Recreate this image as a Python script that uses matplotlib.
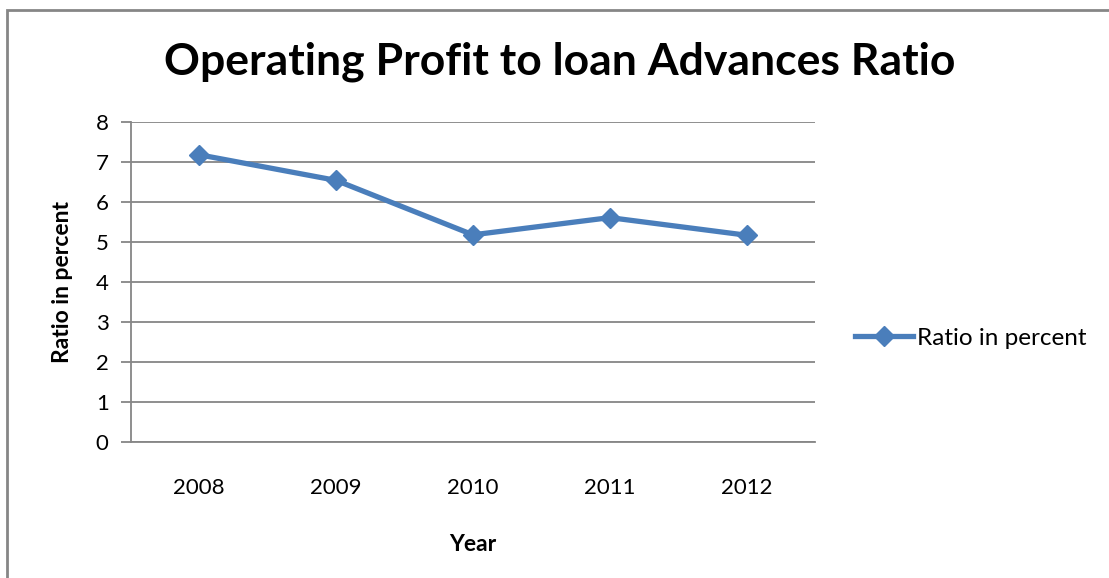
import matplotlib as mpl
mpl.use('Agg')
from matplotlib import pyplot as plt
from matplotlib.patches import Rectangle

years = ['2008', '2009', '2010', '2011', '2012']
ratio = [7.18, 6.54, 5.18, 5.61, 5.17]
yticks = [0, 1, 2, 3, 4, 5, 6, 7, 8]

plt.rcParams['font.family'] = ['Lato', 'DejaVu Sans']

fig = plt.figure(figsize=(11.09, 5.78), dpi=100)
ax = fig.add_axes([0.118, 0.235, 0.617, 0.554])

x = list(range(len(years)))
ax.plot(x, ratio, color='#4A7EBB', linewidth=3.8, marker='D', markersize=10.5,
        label='Ratio in percent')

ax.set_xlim(-0.5, len(years) - 0.5)
ax.set_ylim(0, 8)
ax.set_xticks(x)
ax.set_xticklabels(years, fontsize=16)
ax.set_yticks(yticks)
ax.set_yticklabels([str(v) for v in yticks], fontsize=16)
ax.tick_params(axis='x', length=0, pad=26)
ax.tick_params(axis='y', length=7, width=1.3, color='#868686', pad=9)
ax.yaxis.grid(True, color='#868686', linewidth=1.3)
ax.set_axisbelow(True)
for s in ['top', 'right']:
    ax.spines[s].set_visible(False)
for s in ['left', 'bottom']:
    ax.spines[s].set_color('#868686')
    ax.spines[s].set_linewidth(1.3)

ax.set_ylabel('Ratio in percent', fontsize=16.5, fontweight='bold', labelpad=16)
ax.set_xlabel('Year', fontsize=16.5, fontweight='bold', labelpad=26)
fig.text(0.505, 0.893, 'Operating Profit to loan Advances Ratio', fontsize=32,
         fontweight='bold', ha='center', va='center')

ax.legend(loc='center left', bbox_to_anchor=(1.026, 0.324), frameon=False,
          fontsize=17.5, handlelength=2.4, handletextpad=0.15)

fig.patches.append(Rectangle((0.0065, -0.1), 1.2, 1.0835, transform=fig.transFigure,
                             fill=False, edgecolor='#868686', linewidth=2))

plt.savefig('out.png', dpi=100)
plt.close()
